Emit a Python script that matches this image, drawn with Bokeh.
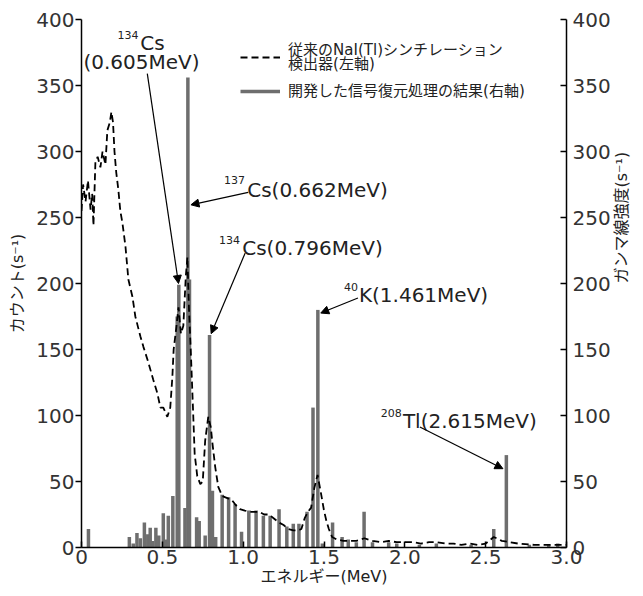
import math
from bokeh.plotting import figure
from bokeh.models import (Range1d, LinearAxis, FixedTicker, Arrow, NormalHead,
                          Label, Legend, LegendItem, ColumnDataSource)
from bokeh.embed import file_html
from bokeh.resources import INLINE

# ---- data ----
nai_energy = [0.000, 0.010, 0.025, 0.040, 0.056, 0.066, 0.074, 0.086, 0.100, 0.117,
              0.130, 0.148, 0.160, 0.175, 0.185, 0.195, 0.204, 0.215, 0.228, 0.240,
              0.253, 0.272, 0.290, 0.315, 0.333, 0.364, 0.383, 0.414, 0.444, 0.469,
              0.488, 0.506, 0.531, 0.549, 0.562, 0.570, 0.585, 0.600, 0.615, 0.630,
              0.645, 0.655, 0.665, 0.675, 0.690, 0.700, 0.716, 0.735, 0.750, 0.765,
              0.784, 0.800, 0.809, 0.827, 0.846, 0.870, 0.890, 0.910, 0.930, 0.955,
              0.980, 1.010, 1.050, 1.100, 1.130, 1.160, 1.190, 1.220, 1.250, 1.280,
              1.310, 1.340, 1.360, 1.380, 1.400, 1.420, 1.440, 1.460, 1.480, 1.500,
              1.515, 1.530, 1.550, 1.580, 1.620, 1.650, 1.700, 1.750, 1.800, 1.850,
              1.900, 1.950, 2.000, 2.050, 2.100, 2.150, 2.200, 2.250, 2.300, 2.350,
              2.400, 2.450, 2.500, 2.550, 2.600, 2.650, 2.700, 2.800, 2.900, 3.000]
nai_counts = [255, 275, 262, 278, 256, 268, 244, 292, 296, 288,
              300, 290, 316, 322, 330, 322, 300, 284, 271, 255,
              246, 228, 203, 190, 175, 160, 152, 140, 127, 117,
              106, 106, 99, 106, 129, 150, 165, 182, 162, 168,
              205, 220, 180, 152, 104, 71, 54, 48, 50, 81,
              99, 91, 80, 61, 46, 39, 38, 37, 36, 32,
              29, 28, 27, 27, 25, 25, 22, 19, 17, 14,
              13, 13, 14, 22, 27, 30, 45, 55, 42, 28,
              20, 14, 8, 6, 5, 5, 5, 7, 5, 4,
              5, 4, 4, 4, 3, 4, 4, 3, 3, 2,
              3, 2, 3, 8, 5, 4, 3, 2, 2, 2]

peak_energy = [0.043, 0.296, 0.320, 0.343, 0.364, 0.389, 0.410, 0.425, 0.440, 0.460,
               0.478, 0.506, 0.522, 0.537, 0.565, 0.592, 0.602, 0.640, 0.658, 0.668,
               0.712, 0.728, 0.765, 0.792, 0.810, 0.830, 0.870, 0.910, 0.950, 0.990,
               1.035, 1.080, 1.125, 1.167, 1.222, 1.270, 1.310, 1.345, 1.395, 1.432,
               1.462, 1.490, 1.553, 1.612, 1.650, 1.700, 1.748, 1.800, 1.900, 1.950,
               2.090, 2.195, 2.410, 2.550, 2.628, 2.770, 2.890, 2.946]
peak_intensity = [14, 8, 3, 11, 7, 19, 10, 15, 5, 15,
                  9, 26, 6, 24, 39, 175, 199, 30, 356, 203,
                  23, 20, 9, 161, 43, 8, 40, 38, 33, 12,
                  28, 28, 24, 24, 29, 16, 18, 18, 27, 106,
                  180, 3, 19, 8, 6, 4, 27, 4, 4, 3,
                  2, 3, 2, 14, 70, 2, 2, 3]

x_ticks = [0, 0.5, 1.0, 1.5, 2.0, 2.5, 3.0]
x_tick_labels = ["0", "0.5", "1.0", "1.5", "2.0", "2.5", "3.0"]
y_ticks = [0, 50, 100, 150, 200, 250, 300, 350, 400]

legend_lines = ["従来のNaI(Tl)シンチレーション", "検出器(左軸)",
                "開発した信号復元処理の結果(右軸)"]

FONT = "DejaVu Sans, Noto Sans CJK JP"

p = figure(width=643, height=596, output_backend="svg", toolbar_location=None,
           x_range=Range1d(0, 3.0), y_range=Range1d(0, 400),
           min_border_left=81, min_border_right=76, min_border_top=19,
           min_border_bottom=49, background_fill_color="white")
p.extra_y_ranges = {"right": Range1d(0, 400)}
p.xgrid.visible = False
p.ygrid.visible = False
p.outline_line_color = None

# bars (right axis)
src = ColumnDataSource(dict(e=peak_energy, h=peak_intensity,
                            z=[0] * len(peak_energy)))
seg_r = p.segment(x0="e", y0="z", x1="e", y1="h", source=src, line_width=3.5,
                  line_color="#6e6e6e", y_range_name="right")

# NaI spectrum (left axis)
line_r = p.line(nai_energy, nai_counts, line_color="black", line_width=1.8,
                line_dash="7 4")


def style_axis(ax, tick_in, tick_out, standoff):
    ax.major_tick_in = tick_in
    ax.major_tick_out = tick_out
    ax.minor_tick_in = 0
    ax.minor_tick_out = 0
    ax.major_label_standoff = standoff
    ax.axis_line_width = 1.5
    ax.axis_line_color = "black"
    ax.major_tick_line_width = 1.5
    ax.major_tick_line_color = "black"
    ax.major_label_text_font = FONT
    ax.major_label_text_font_size = "20px"
    ax.major_label_text_color = "#333333"
    ax.axis_label_text_font = FONT
    ax.axis_label_text_font_size = "16px"
    ax.axis_label_text_font_style = "normal"
    ax.axis_label_text_color = "#222222"


xa = p.xaxis[0]
xa.ticker = FixedTicker(ticks=x_ticks)
xa.major_label_overrides = {t: l for t, l in zip(x_ticks, x_tick_labels)}
style_axis(xa, 6, 0, 2)
xa.axis_label = "エネルギー(MeV)"
xa.axis_label_standoff = 0

ya = p.yaxis[0]
ya.ticker = FixedTicker(ticks=y_ticks)
style_axis(ya, 0, 6, 1)
ya.axis_label = "カウント(s⁻¹)"
ya.axis_label_standoff = 6

yr = LinearAxis(y_range_name="right", ticker=FixedTicker(ticks=y_ticks))
style_axis(yr, 6, 0, 6)
yr.axis_label = "ガンマ線強度(s⁻¹)"
yr.axis_label_orientation = math.pi / 2
yr.axis_label_standoff = 8
p.add_layout(yr, "right")

# legend samples (labels drawn separately below)
legend = Legend(items=[LegendItem(label=" ", renderers=[line_r]),
                       LegendItem(label=" ", renderers=[seg_r])],
                location=(159, 446))
legend.border_line_color = None
legend.background_fill_alpha = 0
legend.padding = 0
legend.margin = 0
legend.glyph_width = 40
legend.glyph_height = 20
legend.label_standoff = 0
legend.spacing = 14
legend.label_text_font_size = "15px"
p.add_layout(legend)

for txt, yv in zip(legend_lines, [377.2, 366.6, 346.1]):
    p.add_layout(Label(x=1.278, y=yv, text=txt, text_font=FONT,
                       text_font_size="15px", text_color="#222222",
                       text_align="left", text_baseline="middle"))


# annotations
def add_text(x, y, text, size, align="left"):
    p.add_layout(Label(x=x, y=y, text=text, text_font=FONT,
                       text_font_size=size, text_color="#222222",
                       text_align=align, text_baseline="alphabetic"))


add_text(0.352, 388, "134", "11px", "right")
add_text(0.364, 382.5, "Cs", "20px")
add_text(0.012, 368, "(0.605MeV)", "20px")
add_text(1.012, 278.6, "137", "11px", "right")
add_text(1.025, 271, "Cs(0.662MeV)", "20px")
add_text(0.981, 233, "134", "11px", "right")
add_text(0.994, 227, "Cs(0.796MeV)", "20px")
add_text(1.710, 197, "40", "11px", "right")
add_text(1.716, 191, "K(1.461MeV)", "20px")
add_text(1.981, 101.7, "208", "11px", "right")
add_text(1.988, 95.6, "Tl(2.615MeV)", "20px")

arrows = [((0.407, 359), (0.600, 200)),
          ((1.031, 269), (0.677, 259.6)),
          ((1.012, 223), (0.802, 162)),
          ((1.710, 189), (1.480, 177.6)),
          ((2.093, 91.3), (2.607, 59.7))]
for (xs, ys), (xe, ye) in arrows:
    p.add_layout(Arrow(x_start=xs, y_start=ys, x_end=xe, y_end=ye,
                       line_width=1.2, line_color="black",
                       end=NormalHead(size=8, fill_color="black",
                                      line_color="black", line_width=1)))

open("out.html", "w").write(file_html(p, INLINE))
